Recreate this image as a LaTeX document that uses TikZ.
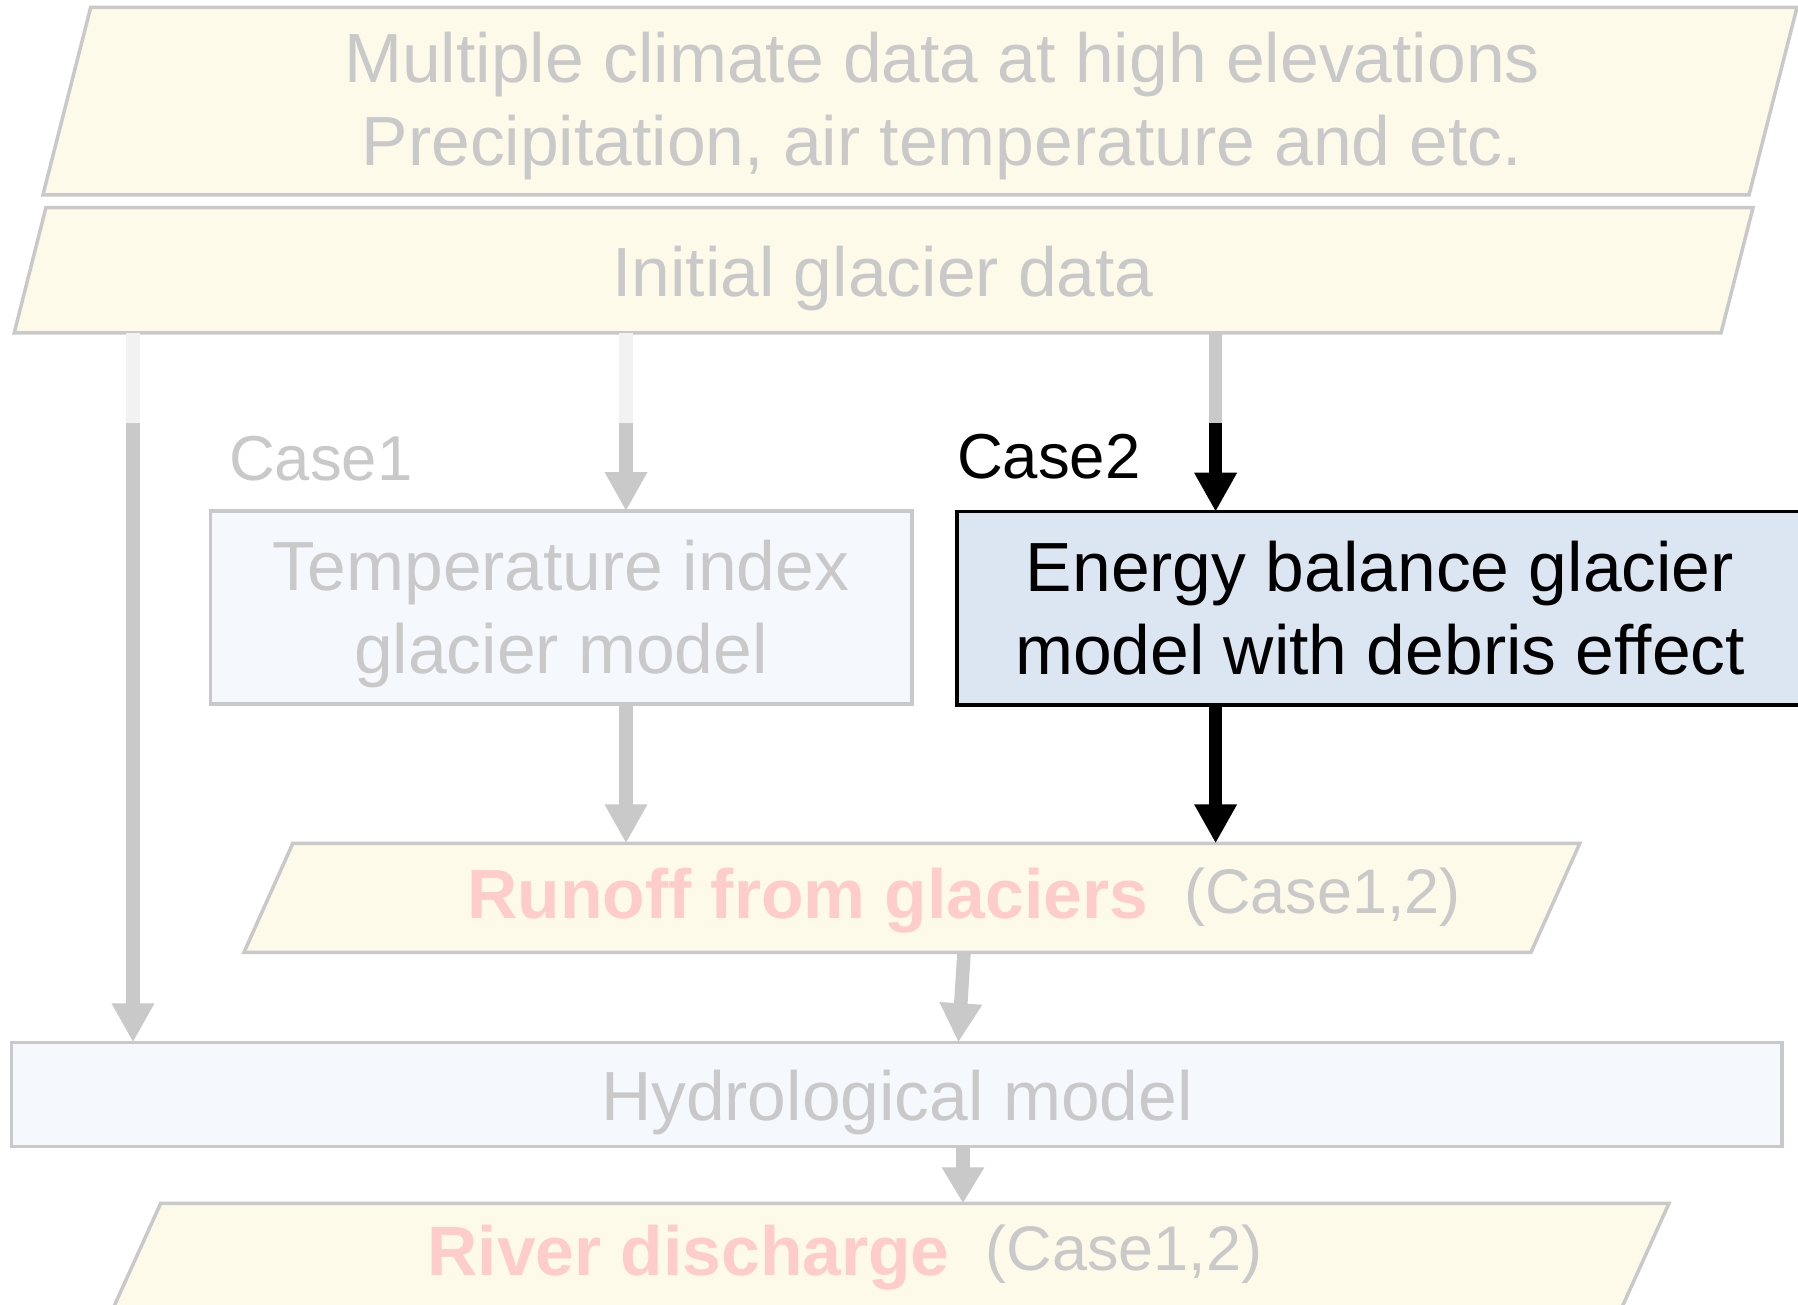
\documentclass[tikz,border=0pt]{standalone}
\usepackage{fontspec}
\setmainfont{Liberation Sans}
\usetikzlibrary{arrows.meta}
\definecolor{cream}{HTML}{FEFAEA}
\definecolor{lgray}{HTML}{C9C9C9}
\definecolor{vlgray}{HTML}{F2F2F2}
\definecolor{pinkt}{HTML}{FFCCCC}
\definecolor{lblue}{HTML}{F5F9FD}
\definecolor{eblue}{HTML}{DCE6F2}
\tikzset{
  para/.style={draw=lgray, line width=3.5pt, fill=cream, line join=miter},
  anchorbox/.style={inner sep=0pt, outer sep=0pt, draw=none, minimum width=1600pt},
  boxnode/.style={inner sep=0pt, outer sep=0pt, line width=3.5pt, anchor=north west},
  txt/.style={inner sep=0pt, outer sep=0pt, font=\fontsize{69.6}{83}\selectfont},
  gtxt/.style={txt, text=lgray},
  casefont/.style={font=\fontsize{63.5}{74}\selectfont},
  shaft/.style={line width=13.5pt},
  garrow/.style={shaft, draw=lgray, -{Triangle[width=40pt,length=39pt]}},
  barrow/.style={shaft, draw=black, -{Triangle[width=40pt,length=39pt]}},
  lshaft/.style={shaft, draw=vlgray},
  gshaft/.style={shaft, draw=lgray},
}
\begin{document}
\begin{tikzpicture}[x=1pt,y=-1pt]
\useasboundingbox (0,0) rectangle (1798,1305);
\fill[white] (0,0) rectangle (1798,1305);

% parallelograms
\draw[para] (90.7,7.3) -- (1797,7.3) -- (1749,195) -- (42.9,195) -- cycle;
\node[anchorbox, minimum height=187.7pt] (clim) at (920,101.15) {};
\draw[para] (45.9,207.7) -- (1753,207.7) -- (1721,333) -- (14.2,333) -- cycle;
\node[anchorbox, minimum height=125.3pt] (init) at (884,270.35) {};
\draw[para] (292.8,843.3) -- (1579.8,843.3) -- (1531,952.3) -- (244,952.3) -- cycle;
\node[anchorbox, minimum height=109pt] (runoff) at (912,897.8) {};
\draw[para] (160.7,1203.3) -- (1669,1203.3) -- (1611.6,1330) -- (103.3,1330) -- cycle;
\node[anchorbox, minimum height=126.7pt] (river) at (886,1266.65) {};

% boxes
\node[boxnode, draw=lgray, fill=lblue, minimum width=701.4pt, minimum height=193pt] (temp) at (210.6,511) {};
\node[boxnode, draw=black, fill=eblue, minimum width=845pt, minimum height=193.3pt] (energy) at (957,511.7) {};
\node[boxnode, draw=lgray, fill=lblue, minimum width=1770.5pt, minimum height=104.4pt] (hydro) at (11.5,1042.3) {};

% arrow helper coordinates
\coordinate (bL) at (133,423);
\coordinate (bM) at (626,423);
\coordinate (bR) at (1215.6,423);
\coordinate (rs) at (964,0);
\coordinate (ht) at (958.4,0);
\coordinate (hx) at (963,0);

% arrows
\draw[lshaft] (init.south -| bL) -- (bL);
\draw[garrow] (bL) -- (hydro.north -| bL);
\draw[lshaft] (init.south -| bM) -- (bM);
\draw[garrow] (bM) -- (temp.north -| bM);
\draw[gshaft] (init.south -| bR) -- (bR);
\draw[barrow] (bR) -- (energy.north -| bR);
\draw[garrow] (temp.south -| bM) -- (runoff.north -| bM);
\draw[barrow] (energy.south -| bR) -- (runoff.north -| bR);
\draw[garrow] (runoff.south -| rs) -- (hydro.north -| ht);
\draw[shaft, draw=lgray, -{Triangle[width=40pt,length=36pt]}] (hydro.south -| hx) -- (river.north -| hx);

% texts
\node[gtxt, anchor=north, align=center] (climtxt) at (942,31.6)
  {Multiple climate data at high elevations\\Precipitation, air temperature and etc.};
\node[gtxt, anchor=base] (inittxt) at (883,296.7) {Initial glacier data};
\node[gtxt, casefont, anchor=base west] (case1) at (229,480) {Case1};
\node[txt, casefont, anchor=base west] (case2) at (957,478) {Case2};
\node[gtxt, anchor=north, align=center] (temptxt) at (561,540) {Temperature index\\glacier model};
\node[txt, anchor=north, align=center] (entxt) at (1380,541) {Energy balance glacier\\model with debris effect};
\node[gtxt, anchor=base] (hydtxt) at (897,1120.7) {Hydrological model};
\node[txt, anchor=base west] (runtxt) at (467.5,918.3)
  {\textcolor{pinkt}{\bfseries Runoff from glaciers}\hspace{36pt}{\fontsize{63}{75}\selectfont\textcolor{lgray}{\raisebox{5pt}{(Case1,2)}}}};
\node[txt, anchor=base west] (rivtxt) at (427.5,1275)
  {\textcolor{pinkt}{\bfseries River discharge}\hspace{36pt}{\fontsize{63}{75}\selectfont\textcolor{lgray}{\raisebox{5pt}{(Case1,2)}}}};
\end{tikzpicture}
\end{document}
